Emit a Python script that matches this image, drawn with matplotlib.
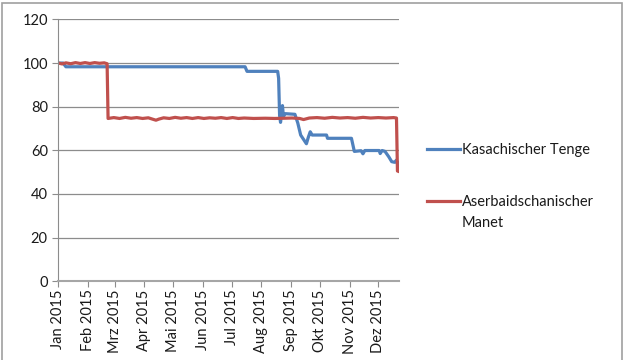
import numpy as np
import pandas as pd
import matplotlib
matplotlib.use("Agg")
import matplotlib.pyplot as plt
from matplotlib.patches import Rectangle

# Kasachischer Tenge (index, 1.1.2015 = 100)
kzt_dates = ["2015-01-01", "2015-01-06", "2015-01-09", "2015-07-15", "2015-07-17",
             "2015-08-18", "2015-08-19", "2015-08-20", "2015-08-21", "2015-08-23",
             "2015-08-24", "2015-08-26", "2015-09-05", "2015-09-08", "2015-09-11",
             "2015-09-17", "2015-09-19", "2015-09-21", "2015-09-23", "2015-10-08",
             "2015-10-09", "2015-11-03", "2015-11-06", "2015-11-13", "2015-11-15",
             "2015-11-17", "2015-12-02", "2015-12-03", "2015-12-05", "2015-12-08",
             "2015-12-12", "2015-12-15", "2015-12-18", "2015-12-20", "2015-12-22",
             "2015-12-23"]
kzt_values = [100.0, 100.0, 98.3, 98.3, 96.2,
              96.2, 93.0, 76.0, 72.8, 80.5,
              75.5, 76.8, 76.5, 72.5, 67.0,
              63.0, 66.0, 68.5, 67.0, 67.0,
              65.5, 65.5, 59.5, 59.8, 58.4,
              59.9, 59.9, 58.5, 59.9, 59.5,
              57.0, 54.8, 54.5, 55.5, 52.3,
              54.3]

# Aserbaidschanischer Manet
azn_dates = ["2015-01-01", "2015-01-05", "2015-01-09", "2015-01-14", "2015-01-19",
             "2015-01-24", "2015-01-29", "2015-02-03", "2015-02-08", "2015-02-13",
             "2015-02-18", "2015-02-21", "2015-02-22", "2015-02-28", "2015-03-06",
             "2015-03-12", "2015-03-18", "2015-03-24", "2015-03-30", "2015-04-05",
             "2015-04-10", "2015-04-13", "2015-04-16", "2015-04-21", "2015-04-27",
             "2015-05-03", "2015-05-09", "2015-05-15", "2015-05-21", "2015-05-27",
             "2015-06-02", "2015-06-08", "2015-06-14", "2015-06-20", "2015-06-26",
             "2015-07-02", "2015-07-08", "2015-07-14", "2015-07-24", "2015-08-05",
             "2015-08-15", "2015-08-25", "2015-09-02", "2015-09-10", "2015-09-14",
             "2015-09-20", "2015-09-28", "2015-10-06", "2015-10-14", "2015-10-22",
             "2015-10-30", "2015-11-07", "2015-11-15", "2015-11-23", "2015-12-01",
             "2015-12-09", "2015-12-17", "2015-12-20", "2015-12-21", "2015-12-23"]
azn_values = [100.0, 99.6, 100.1, 99.7, 100.2,
              99.8, 100.2, 99.8, 100.2, 99.9,
              100.1, 99.7, 74.6, 75.0, 74.6,
              75.1, 74.7, 75.0, 74.6, 74.9,
              74.2, 73.8, 74.3, 74.9, 74.6,
              75.1, 74.7, 75.0, 74.6, 75.0,
              74.6, 74.9, 74.7, 75.0, 74.6,
              75.0, 74.6, 74.8, 74.6, 74.7,
              74.6, 74.7, 74.8, 74.6, 74.1,
              74.8, 75.0, 74.7, 75.1, 74.8,
              75.0, 74.7, 75.1, 74.8, 75.0,
              74.8, 75.0, 74.8, 50.5, 50.2]

month_labels = ["Jan 2015", "Feb 2015", "Mrz 2015", "Apr 2015", "Mai 2015", "Jun 2015",
                "Jul 2015", "Aug 2015", "Sep 2015", "Okt 2015", "Nov 2015", "Dez 2015"]
month_ticks = pd.date_range("2015-01-01", periods=12, freq="MS")

plt.rcParams["font.family"] = ["Lato", "DejaVu Sans"]

fig = plt.figure(figsize=(6.4, 3.6), dpi=100)
ax = fig.add_axes([0.091, 0.219, 0.533, 0.727])

grid_c = "#8c8c8c"
ax.plot(pd.to_datetime(kzt_dates), kzt_values, color="#4F81BD", lw=2.3,
        label="Kasachischer Tenge", solid_joinstyle="round")
ax.plot(pd.to_datetime(azn_dates), azn_values, color="#C0504D", lw=2.3,
        label="Aserbaidschanischer", solid_joinstyle="round")

ax.set_xlim(pd.Timestamp("2015-01-01"), pd.Timestamp("2015-12-23"))
ax.set_ylim(0, 120)
ax.set_yticks(range(0, 121, 20))
ax.set_xticks(month_ticks)
ax.set_xticklabels(month_labels, rotation=90)
ax.yaxis.grid(True, color=grid_c, lw=0.9)
ax.set_axisbelow(True)

for s in ["top", "right"]:
    ax.spines[s].set_visible(False)
ax.spines["left"].set_color(grid_c)
ax.spines["bottom"].set_color("#a6a6a6")
ax.spines["bottom"].set_linewidth(1.5)
ax.tick_params(axis="both", colors=grid_c, labelcolor="#1a1a1a", labelsize=10.5, length=4)
ax.tick_params(axis="x", pad=2)

leg = ax.legend(loc="upper left", bbox_to_anchor=(0.658, 0.62), bbox_transform=fig.transFigure,
                frameon=False, fontsize=10.5, handlelength=2.3, handletextpad=0.1,
                labelspacing=2.65, borderaxespad=0)
for t in leg.get_texts():
    t.set_color("#1a1a1a")

# second line of the Manet label, placed under the legend entry
fig.canvas.draw()
bb = leg.get_texts()[1].get_window_extent()
fig.text(bb.x0 / fig.bbox.width, (bb.y0 + bb.height / 2 - 21) / fig.bbox.height, "Manet",
         fontsize=10.5, color="#1a1a1a", ha="left", va="center")

# chart border
fig.patches.append(Rectangle((0.003, -0.02), 0.969, 1.0125, transform=fig.transFigure,
                             fill=False, edgecolor="#a0a0a0", lw=1.2))

fig.savefig("out.png", dpi=100)
